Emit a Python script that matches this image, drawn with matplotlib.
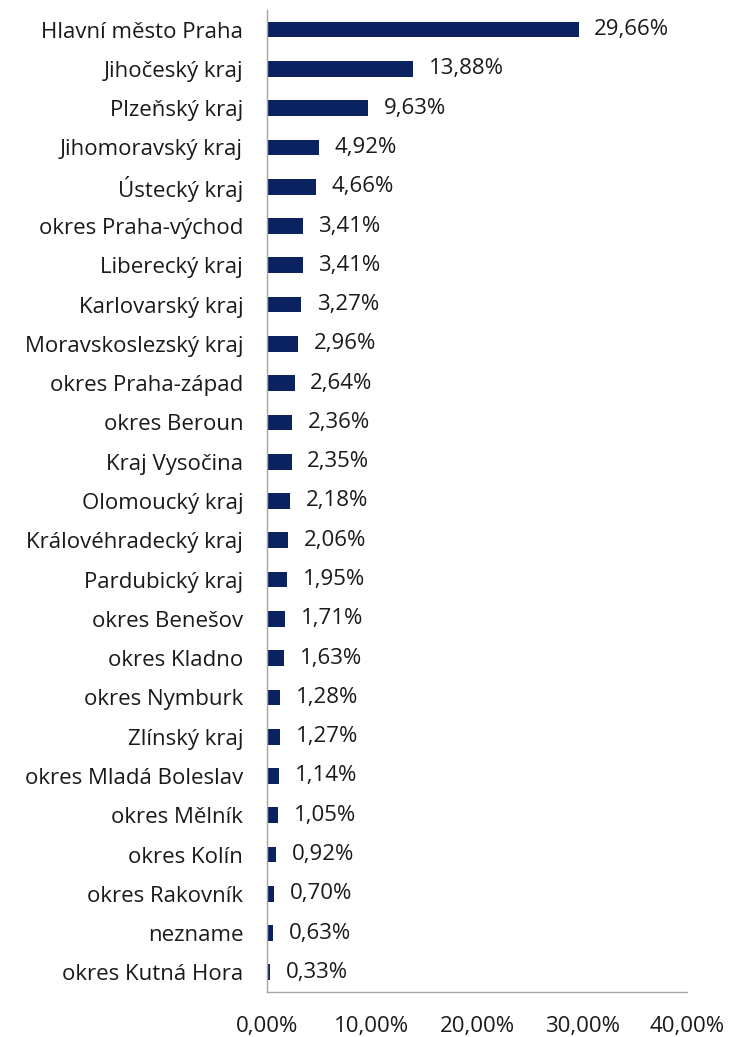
import matplotlib.pyplot as plt
from matplotlib.ticker import FuncFormatter

plt.rcParams['font.family'] = ['Open Sans', 'DejaVu Sans']

regions = ['Hlavní město Praha', 'Jihočeský kraj', 'Plzeňský kraj', 'Jihomoravský kraj',
           'Ústecký kraj', 'okres Praha-východ', 'Liberecký kraj', 'Karlovarský kraj',
           'Moravskoslezský kraj', 'okres Praha-západ', 'okres Beroun', 'Kraj Vysočina',
           'Olomoucký kraj', 'Královéhradecký kraj', 'Pardubický kraj', 'okres Benešov',
           'okres Kladno', 'okres Nymburk', 'Zlínský kraj', 'okres Mladá Boleslav',
           'okres Mělník', 'okres Kolín', 'okres Rakovník', 'nezname', 'okres Kutná Hora']
shares = [29.66, 13.88, 9.63, 4.92, 4.66, 3.41, 3.41, 3.27, 2.96, 2.64, 2.36, 2.35,
          2.18, 2.06, 1.95, 1.71, 1.63, 1.28, 1.27, 1.14, 1.05, 0.92, 0.70, 0.63, 0.33]
xticks = [0, 10, 20, 30, 40]

navy = '#0b2260'
fmt = lambda v: ('%.2f%%' % v).replace('.', ',')

fig = plt.figure(figsize=(7.35, 10.37), dpi=100, facecolor='white')
ax = fig.add_axes([0.363, 0.0434, 0.572, 0.947])

ypos = range(len(regions))
ax.barh(ypos, shares, height=0.4, color=navy)
for y, v in zip(ypos, shares):
    ax.text(v + 1.5, y, fmt(v), va='center', ha='left', fontsize=16, color='#1a1a1a')

ax.set_yticks(list(ypos))
ax.set_yticklabels(regions, fontsize=16, color='#1a1a1a')
ax.set_ylim(len(regions) - 0.5, -0.5)
ax.set_xlim(0, 40)
ax.set_xticks(xticks)
ax.xaxis.set_major_formatter(FuncFormatter(lambda v, p: fmt(v)))
ax.tick_params(axis='x', labelsize=16, length=0, pad=17, colors='#1a1a1a')
ax.tick_params(axis='y', length=0, pad=17)
for s in ['top', 'right']:
    ax.spines[s].set_visible(False)
for s in ['left', 'bottom']:
    ax.spines[s].set_color('#a6a6a6')
    ax.spines[s].set_linewidth(1)

fig.savefig('out.png', dpi=100)
